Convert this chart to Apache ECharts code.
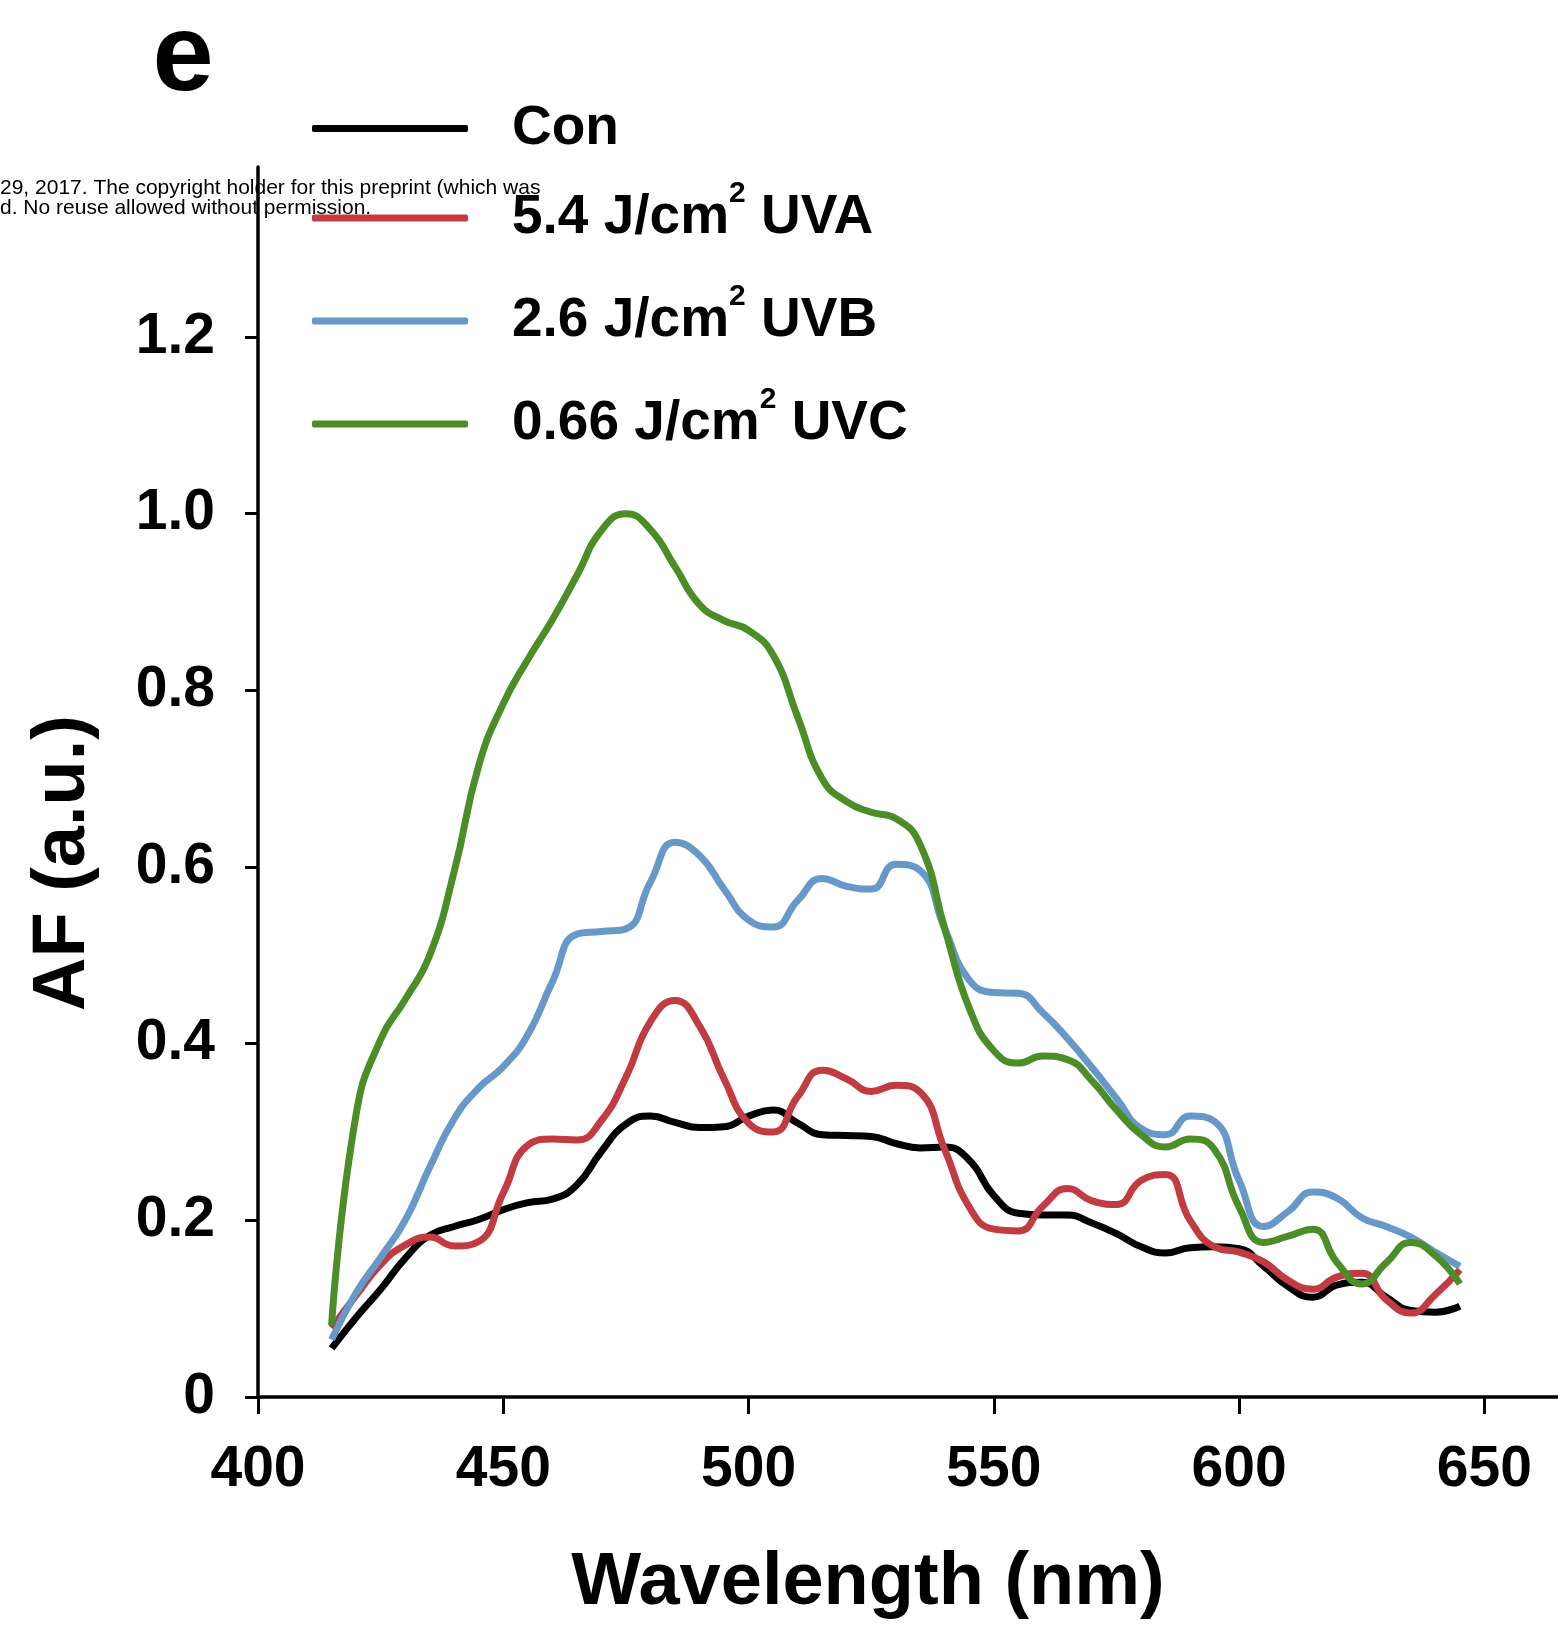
<!DOCTYPE html>
<html>
<head>
<meta charset="utf-8">
<script src="https://cdn.jsdelivr.net/npm/echarts@6/dist/echarts.min.js"></script>
<style>
  html, body { margin: 0; padding: 0; background: #fff; }
  #chart { width: 1558px; height: 1630px; }
</style>
</head>
<body>
<div id="chart"></div>
<script>
"use strict";

var FONT = '"Liberation Sans", Arial, sans-serif';

// wavelength (nm)
var wavelengths = [415, 420, 425, 430, 435, 440, 445, 450, 455, 460, 465, 470, 475, 480, 485, 490,
	495, 500, 505, 510, 515, 520, 525, 530, 535, 540, 545, 550, 555, 560, 565, 570, 575, 580, 585,
	590, 595, 600, 605, 610, 615, 620, 625, 630, 635, 640, 645];

var conValues = [0.055, 0.09, 0.122, 0.157, 0.183, 0.193, 0.201, 0.212, 0.22, 0.224, 0.24, 0.278,
	0.309, 0.318, 0.311, 0.305, 0.306, 0.318, 0.325, 0.31, 0.297, 0.296, 0.295, 0.287, 0.282, 0.283,
	0.268, 0.228, 0.208, 0.206, 0.206, 0.197, 0.185, 0.17, 0.163, 0.169, 0.17, 0.168, 0.148, 0.125,
	0.113, 0.127, 0.13, 0.113, 0.098, 0.096, 0.103];

var uvaValues = [0.078, 0.115, 0.15, 0.172, 0.181, 0.171, 0.176, 0.231, 0.285, 0.292, 0.291, 0.313,
	0.362, 0.425, 0.449, 0.42, 0.36, 0.31, 0.30, 0.34, 0.37, 0.36, 0.346, 0.353, 0.345, 0.28, 0.215,
	0.19, 0.188, 0.216, 0.236, 0.222, 0.218, 0.245, 0.252, 0.2, 0.17, 0.164, 0.153, 0.132, 0.122,
	0.136, 0.14, 0.11, 0.095, 0.116, 0.144];

var uvbValues = [0.065, 0.118, 0.158, 0.20, 0.26, 0.315, 0.35, 0.374, 0.41, 0.47, 0.524, 0.527,
	0.53, 0.583, 0.628, 0.613, 0.575, 0.54, 0.532, 0.562, 0.587, 0.578, 0.575, 0.603, 0.596, 0.53,
	0.472, 0.458, 0.457, 0.435, 0.406, 0.373, 0.338, 0.304, 0.297, 0.318, 0.312, 0.245, 0.193, 0.21,
	0.232, 0.225, 0.203, 0.193, 0.181, 0.164, 0.148];

var uvcValues = [0.081, 0.32, 0.405, 0.45, 0.50, 0.595, 0.715, 0.785, 0.835, 0.88, 0.93, 0.981,
	1.0, 0.982, 0.94, 0.897, 0.879, 0.868, 0.84, 0.77, 0.70, 0.674, 0.662, 0.655, 0.625, 0.53, 0.44,
	0.392, 0.378, 0.386, 0.382, 0.358, 0.325, 0.297, 0.283, 0.292, 0.28, 0.215, 0.175, 0.182, 0.19,
	0.152, 0.128, 0.152, 0.175, 0.16, 0.128];

var xTicks = [400, 450, 500, 550, 600, 650];
var yTicks = [0, 0.2, 0.4, 0.6, 0.8, 1.0, 1.2];

var seriesNames = ['Con', 'UVA', 'UVB', 'UVC'];
var seriesLabels = {
	'Con': '{c|Con}',
	'UVA': '{m|5.4 J/cm}{s|2}{m| UVA}',
	'UVB': '{m|2.6 J/cm}{s|2}{m| UVB}',
	'UVC': '{m|0.66 J/cm}{s|2}{m| UVC}'
};
var seriesColors = ['#000000', '#c13b41', '#6699c9', '#4b8d27'];

function pairs(values) {
	var out = [];
	for (var i = 0; i < wavelengths.length; i++) {
		out.push([wavelengths[i], values[i]]);
	}
	return out;
}

var allValues = [conValues, uvaValues, uvbValues, uvcValues];
var series = [];
for (var k = 0; k < seriesNames.length; k++) {
	series.push({
		name: seriesNames[k],
		type: 'line',
		smooth: true,
		showSymbol: false,
		color: seriesColors[k],
		lineStyle: { width: 7, color: seriesColors[k] },
		data: pairs(allValues[k])
	});
}

var legendText = {
	fontFamily: FONT,
	fontWeight: 'bold',
	fontSize: 55,
	color: '#000',
	padding: [0, 0, 0, 39],
	rich: {
		c: { fontFamily: FONT, fontWeight: 'bold', fontSize: 55, lineHeight: 55, color: '#000' },
		m: { fontFamily: FONT, fontWeight: 'bold', fontSize: 55, lineHeight: 78, color: '#000' },
		s: { fontFamily: FONT, fontWeight: 'bold', fontSize: 30, lineHeight: 30, padding: [0, 0, 48, 0], color: '#000' }
	}
};

function makeLegend(names, top) {
	return {
		orient: 'vertical',
		left: 312,
		top: top,
		padding: 0,
		itemGap: 25,
		itemWidth: 156,
		itemHeight: 7,
		icon: 'roundRect',
		selectedMode: false,
		data: names,
		formatter: function(name) {
			return seriesLabels[name];
		},
		textStyle: legendText
	};
}

var chart = echarts.init(document.getElementById('chart'));

chart.setOption({
	animation: false,
	backgroundColor: '#ffffff',
	grid: {
		left: 258,
		right: 0,
		top: 167,
		bottom: 233
	},
	legend: [
		makeLegend(['Con'], 101),
		makeLegend(['UVA', 'UVB', 'UVC'], 179)
	],
	xAxis: {
		type: 'value',
		min: 400,
		max: 665,
		name: 'Wavelength (nm)',
		nameLocation: 'middle',
		nameGap: 150,
		nameTextStyle: {
			fontFamily: FONT,
			fontWeight: 'bold',
			fontSize: 74,
			color: '#000',
			padding: [0, 80, 0, 0]
		},
		splitLine: { show: false },
		axisLine: { lineStyle: { color: '#000', width: 3.5 } },
		axisTick: {
			show: true,
			length: 17,
			lineStyle: { color: '#000', width: 3 },
			customValues: xTicks
		},
		axisLabel: {
			margin: 45,
			fontFamily: FONT,
			fontWeight: 'bold',
			fontSize: 57,
			color: '#000',
			customValues: xTicks
		}
	},
	yAxis: {
		type: 'value',
		min: 0,
		max: 1.3925,
		name: 'AF (a.u.)',
		nameLocation: 'middle',
		nameGap: 157,
		nameTextStyle: {
			fontFamily: FONT,
			fontWeight: 'bold',
			fontSize: 74,
			color: '#000',
			padding: [0, 162, 0, 0]
		},
		splitLine: { show: false },
		axisLine: { show: true, lineStyle: { color: '#000', width: 3.5 } },
		axisTick: {
			show: true,
			length: 13,
			lineStyle: { color: '#000', width: 3 },
			customValues: yTicks
		},
		axisLabel: {
			margin: 43,
			fontFamily: FONT,
			fontWeight: 'bold',
			fontSize: 57,
			color: '#000',
			customValues: yTicks,
			formatter: function(v) {
				return v === 0 ? '0' : v.toFixed(1);
			}
		}
	},
	graphic: [
		{
			type: 'text',
			x: 183,
			y: 60,
			style: {
				text: 'e',
				fontFamily: FONT,
				fontWeight: 'bold',
				fontSize: 110,
				fill: '#000',
				align: 'center',
				verticalAlign: 'middle'
			}
		},
		{
			type: 'text',
			x: 0,
			y: 188,
			z: 100,
			style: {
				text: '29, 2017. The copyright holder for this preprint (which was',
				fontFamily: FONT,
				fontSize: 21,
				fill: '#000',
				align: 'left',
				verticalAlign: 'middle'
			}
		},
		{
			type: 'text',
			x: 0,
			y: 208,
			z: 100,
			style: {
				text: 'd. No reuse allowed without permission.',
				fontFamily: FONT,
				fontSize: 21,
				fill: '#000',
				align: 'left',
				verticalAlign: 'middle'
			}
		}
	],
	series: series
});
</script>
</body>
</html>
